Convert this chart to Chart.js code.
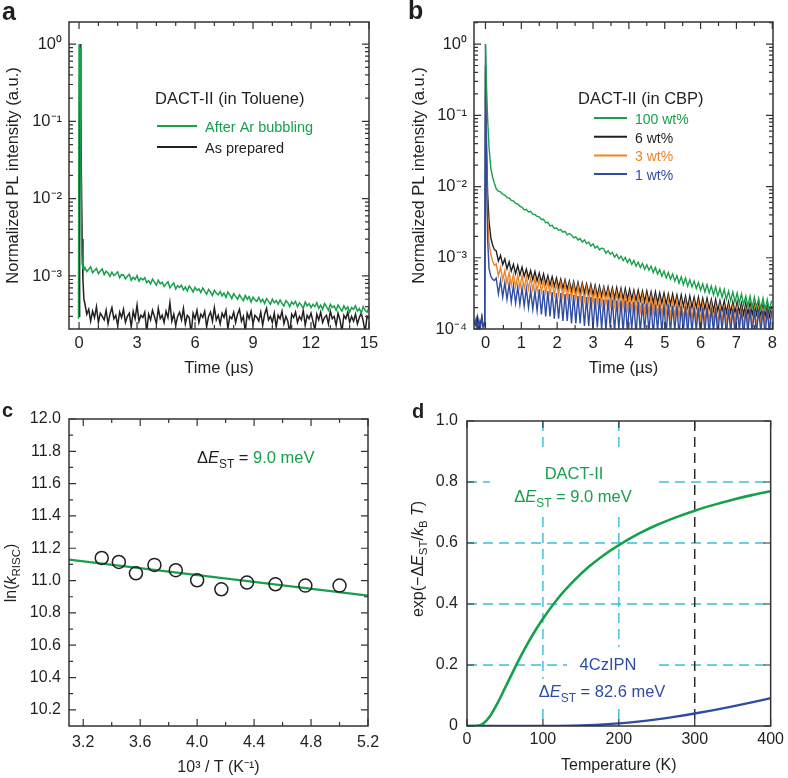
<!DOCTYPE html>
<html>
<head>
<meta charset="utf-8">
<script src="https://cdn.jsdelivr.net/npm/chart.js@4.4.1/dist/chart.umd.min.js"></script>
<style>
    body { margin: 0; background: #fff; }
    #figura { position: relative; width: 788px; height: 778px; background: #fff; }
    canvas { position: absolute; }
</style>
</head>
<body>
<div id="figura">
    <canvas id="chart_a" width="394" height="389" style="left:0;top:0"></canvas>
    <canvas id="chart_b" width="394" height="389" style="left:394px;top:0"></canvas>
    <canvas id="chart_c" width="394" height="389" style="left:0;top:389px"></canvas>
    <canvas id="chart_d" width="394" height="389" style="left:394px;top:389px"></canvas>
</div>
<script>
const FONTE = '"Liberation Sans", Arial, Helvetica, sans-serif';
const PRETO = '#231f20';
const VERDE = '#17a04b';
const AZUL = '#2f4ca3';
const LARANJA = '#f08424';
const CIANO = '#3dbdd3';

// ---------------- painel a (tolueno) ----------------
const titulo_legenda_a = 'DACT-II (in Toluene)';
const nomes_a = ['After Ar bubbling', 'As prepared'];
const tempo_pico_a = [-0.03, 0.0, 0.03, 0.06, 0.09, 0.12, 0.16, 0.2, 0.25];
const pico_ar_a = [2.8e-4, 1.0, 0.6, 0.9, 0.05, 0.004, 0.0015, 0.00125, 0.0012];
const pico_prep_a = [null, 3.0e-4, 0.3, 1.0, 0.2, 0.02, 0.003, 0.0009, 0.0005];
// caudas: inicio 0.30 us, passo 0.10 us, valores em unidades de 1e-4
const inicio_cauda_a = 0.30;
const passo_cauda_a = 0.10;
const cauda_ar_a = [
    12.9, 11.4, 12.2, 13.1, 11.0, 11.8, 12.5, 10.7, 11.6, 12.3,
    10.4, 11.5, 10.9, 9.9, 11.2, 10.1, 10.6, 11.3, 9.5, 10.4,
    10.3, 9.2, 9.9, 10.5, 8.8, 9.6, 9.0, 10.1, 8.6, 9.4,
    8.9, 9.5, 8.2, 8.7, 7.9, 9.1, 8.3, 7.6, 8.8, 7.9,
    8.3, 7.3, 7.9, 8.4, 7.0, 7.6, 8.1, 6.8, 7.5, 7.1,
    7.6, 6.6, 7.2, 6.4, 7.4, 6.9, 6.2, 7.1, 6.5, 6.8,
    6.1, 7.0, 6.3, 5.8, 6.7, 6.2, 5.6, 6.5, 6.0, 5.7,
    6.3, 5.5, 6.0, 5.3, 6.2, 5.7, 5.1, 5.9, 5.4, 5.0,
    5.7, 5.2, 4.8, 5.6, 5.0, 5.4, 4.6, 5.3, 4.9, 4.7,
    5.3, 4.6, 5.0, 4.4, 5.1, 4.7, 4.3, 5.0, 4.5, 4.8,
    4.3, 4.9, 4.4, 4.1, 4.8, 4.5, 4.0, 4.6, 4.3, 4.7,
    4.0, 4.5, 4.2, 3.8, 4.6, 4.1, 4.4, 3.9, 4.3, 4.0,
    4.5, 3.8, 4.2, 3.7, 4.4, 4.0, 3.6, 4.3, 3.9, 4.1,
    3.6, 4.2, 3.8, 3.5, 4.1, 3.7, 4.0, 3.4, 3.9, 3.7,
    4.1, 3.5, 3.8, 3.3, 4.0, 3.6, 3.4, 3.9
];
const cauda_prep_a = [
    4.4, 3.2, 3.7, 2.6, 3.5, 2.9, 4.0, 2.5, 3.3, 3.0,
    2.7, 3.6, 2.4, 3.2, 3.9, 2.8, 3.1, 2.3, 3.4, 2.9,
    3.7, 2.5, 3.0, 3.3, 2.2, 3.5, 2.8, 4.2, 2.6, 3.1,
    2.9, 3.4, 1.9, 3.2, 2.7, 3.6, 3.0, 2.4, 3.8, 2.8,
    3.1, 2.5, 3.5, 2.9, 4.5, 2.6, 3.2, 2.3, 3.0, 3.4,
    2.7, 3.8, 2.4, 3.1, 2.9, 1.8, 3.3, 2.8, 3.6, 2.5,
    3.2, 2.9, 3.5, 2.2, 3.0, 3.4, 2.6, 3.9, 2.7, 3.1,
    2.4, 3.3, 2.9, 3.6, 2.1, 3.0, 2.8, 3.4, 2.5, 3.2,
    3.7, 2.6, 3.0, 1.9, 3.3, 2.8, 3.5, 2.4, 3.1, 2.9,
    2.6, 3.4, 2.3, 3.2, 3.8, 2.7, 3.0, 2.5, 3.3, 2.2,
    3.1, 2.8, 3.5, 2.4, 3.0, 2.6, 1.8, 3.2, 2.9, 3.4,
    2.5, 3.0, 2.7, 3.6, 2.3, 3.1, 2.8, 3.3, 2.6, 2.0,
    3.2, 2.7, 3.4, 2.5, 2.9, 3.1, 2.4, 3.5, 2.8, 3.0,
    2.3, 3.3, 2.7, 1.9, 3.1, 2.8, 3.4, 2.5, 3.0, 2.6,
    3.2, 2.4, 2.9, 3.3, 2.6, 1.9, 3.0, 2.8
];
const ticks_x_a = [0, 3, 6, 9, 12, 15];
const rotulos_x_a = ['0', '3', '6', '9', '12', '15'];
const ticks_y_a = [1, 0.1, 0.01, 0.001];
const rotulos_y_a = ['10⁰', '10⁻¹', '10⁻²', '10⁻³'];

// ---------------- painel b (CBP) ----------------
const titulo_legenda_b = 'DACT-II (in CBP)';
const nomes_b = ['100 wt%', '6 wt%', '3 wt%', '1 wt%'];
const tempo_pico_b = [-0.3, -0.26, -0.22, -0.18, -0.14, -0.1, -0.06, -0.02, 0, 0.03, 0.06, 0.1, 0.15, 0.2, 0.25];
const pico_100_b = [null, null, null, null, null, null, null, null, 1.0, 0.25, 0.09, 0.035, 0.018, 0.0135, 0.011];
const pico_6_b = [1.3e-4, 1.1e-4, 1.45e-4, 0.95e-4, 1.2e-4, 1.5e-4, 1.05e-4, 1.25e-4, 0.5, 0.04, 0.008, 0.0032, 0.0019, 0.0015, 0.0013];
const pico_3_b = [null, null, null, null, null, null, null, null, 0.4, 0.02, 0.004, 0.0016, 0.0011, 0.0009, 0.00078];
const pico_1_b = [1.15e-4, 1.4e-4, 0.95e-4, 1.3e-4, 1.05e-4, 1.45e-4, 1.0e-4, 1.2e-4, 1.0, 0.015, 0.0018, 0.0007, 0.00055, 0.0005, 0.00048];
// caudas: inicio 0.30 us, passo 0.06 us, valores em unidades de 1e-4
const inicio_cauda_b = 0.30;
const passo_cauda_b = 0.06;
const cauda_100_b = [
    93, 86, 84, 78, 76, 70, 69, 64, 63, 58,
    57, 53, 51, 47, 48, 44, 45, 41, 40.5, 38,
    37.5, 34.5, 34.8, 31, 31.5, 28, 28.5, 25.8, 26.2, 24.3,
    24.9, 22.8, 23.5, 21.0, 21.9, 20.9, 19.0, 19.7, 17.8, 18.6,
    16.6, 17.8, 15.8, 16.5, 14.6, 15.6, 13.7, 14.6, 12.9, 13.7,
    13.3, 11.6, 12.6, 11.2, 11.9, 10.2, 11.2, 9.7, 10.5, 9.1,
    10.1, 8.6, 9.6, 8.1, 9.2, 7.6, 8.7, 7.3, 8.3, 6.9,
    8.0, 6.7, 7.6, 6.2, 7.3, 5.9, 6.8, 5.5, 6.5, 5.2,
    6.2, 5.0, 5.9, 4.7, 5.6, 4.4, 5.4, 4.2, 5.2, 4.0,
    4.9, 3.9, 4.7, 3.7, 4.5, 3.5, 4.3, 3.3, 4.2, 3.2,
    4.0, 3.0, 3.9, 2.9, 3.7, 2.8, 3.6, 2.6, 3.4, 2.5,
    3.3, 2.4, 3.2, 2.3, 3.1, 2.2, 2.9, 2.1, 2.9, 2.0,
    2.8, 2.0, 2.7, 1.9, 2.7, 1.9, 2.6, 1.8, 2.5
];
const cauda_6_b = [
    12.5, 9.0, 10.8, 8.0, 9.6, 7.0, 8.8, 6.5, 8.1, 6.0,
    7.8, 5.7, 7.4, 5.5, 6.9, 5.2, 6.6, 4.9, 6.4, 4.7,
    6.1, 4.5, 5.9, 4.3, 5.6, 4.1, 5.4, 4.0, 5.2, 3.8,
    5.0, 3.7, 4.9, 3.6, 4.7, 3.4, 4.6, 3.3, 4.5, 3.2,
    4.4, 3.2, 4.3, 3.1, 4.2, 3.0, 4.1, 2.9, 4.0, 2.9,
    3.9, 2.9, 3.9, 2.8, 3.8, 2.7, 3.8, 2.7, 3.7, 2.6,
    3.7, 2.6, 3.6, 2.6, 3.5, 2.5, 3.5, 2.5, 3.4, 2.4,
    3.4, 2.4, 3.3, 2.3, 3.3, 2.3, 3.2, 2.3, 3.2, 2.2,
    3.1, 2.2, 3.1, 2.2, 3.0, 2.1, 3.0, 2.1, 2.9, 2.0,
    2.9, 2.0, 2.8, 2.0, 2.8, 1.9, 2.7, 1.9, 2.7, 1.9,
    2.6, 1.8, 2.6, 1.8, 2.5, 1.8, 2.5, 1.7, 2.4, 1.7,
    2.4, 1.7, 2.4, 1.7, 2.3, 1.6, 2.3, 1.6, 2.3, 1.6,
    2.2, 1.6, 2.2, 1.5, 2.2, 1.5, 2.1, 1.5, 2.1
];
const cauda_3_b = [
    8.2, 5.6, 7.3, 4.9, 6.6, 4.4, 6.2, 4.1, 5.9, 3.9,
    5.7, 3.8, 5.6, 3.7, 5.4, 3.6, 5.2, 3.5, 5.1, 3.4,
    5.0, 3.3, 4.9, 3.2, 4.7, 3.1, 4.5, 3.0, 4.4, 3.0,
    4.4, 2.8, 4.3, 2.7, 4.2, 2.7, 4.1, 2.6, 4.0, 2.5,
    3.9, 2.5, 3.8, 2.4, 3.7, 2.3, 3.6, 2.3, 3.5, 2.2,
    3.5, 2.2, 3.4, 2.1, 3.3, 2.1, 3.2, 2.0, 3.2, 2.0,
    3.1, 1.9, 3.0, 1.9, 3.0, 1.8, 2.9, 1.8, 2.9, 1.7,
    2.8, 1.7, 2.8, 1.7, 2.7, 1.6, 2.6, 1.6, 2.6, 1.6,
    2.6, 1.5, 2.5, 1.5, 2.5, 1.5, 2.4, 1.4, 2.4, 1.4,
    2.3, 1.4, 2.3, 1.4, 2.3, 1.3, 2.2, 1.3, 2.2, 1.3,
    2.2, 1.3, 2.1, 1.2, 2.1, 1.3, 2.0, 1.2, 2.0, 1.2,
    2.0, 1.2, 2.0, 1.2, 1.9, 1.1, 1.9, 1.2, 1.9, 1.1,
    1.9, 1.1, 1.9, 1.2, 1.9, 1.1, 1.8, 1.1, 1.8
];
const cauda_1_b = [
    5.2, 3.1, 4.8, 2.8, 4.5, 2.6, 4.3, 2.4, 4.1, 2.3,
    3.9, 2.2, 3.8, 2.1, 3.7, 2.0, 3.5, 1.9, 3.4, 1.8,
    3.6, 1.6, 3.5, 1.5, 3.4, 1.5, 3.3, 1.4, 3.2, 1.4,
    3.2, 1.3, 3.1, 1.3, 3.1, 1.2, 3.0, 1.2, 2.9, 1.2,
    2.9, 1.1, 2.8, 1.1, 2.8, 1.0, 2.7, 1.05, 2.7, 1.0,
    2.6, 0.95, 2.6, 1.05, 2.6, 0.9, 2.5, 1.0, 2.5, 0.9,
    2.5, 0.9, 2.4, 1.0, 2.4, 0.8, 2.4, 0.9, 2.3, 0.95,
    2.3, 0.9, 2.3, 0.8, 2.2, 0.95, 2.2, 0.9, 2.2, 0.85,
    2.2, 0.9, 2.1, 0.95, 2.1, 0.8, 2.1, 0.9, 2.1, 0.85,
    2.1, 0.9, 2.0, 0.95, 2.0, 0.75, 2.0, 0.9, 2.0, 0.85,
    2.0, 0.9, 2.0, 0.8, 1.9, 0.95, 2.0, 0.8, 1.9, 0.9,
    1.9, 0.85, 1.9, 0.95, 1.9, 0.75, 1.9, 0.9, 1.9, 0.85,
    1.9, 0.85, 1.9, 0.9, 1.8, 0.8, 1.9, 0.85, 1.8
];
const ticks_x_b = [0, 1, 2, 3, 4, 5, 6, 7, 8];
const rotulos_x_b = ['0', '1', '2', '3', '4', '5', '6', '7', '8'];
const ticks_y_b = [1, 0.1, 0.01, 0.001, 0.0001];
const rotulos_y_b = ['10⁰', '10⁻¹', '10⁻²', '10⁻³', '10⁻⁴'];

// ---------------- painel c (Arrhenius) ----------------
const inverso_T_c = [3.33, 3.45, 3.57, 3.70, 3.85, 4.00, 4.17, 4.35, 4.55, 4.76, 5.00];
const ln_krisc_c = [11.14, 11.115, 11.045, 11.097, 11.064, 11.002, 10.946, 10.988, 10.977, 10.969, 10.969];
const ajuste_x_c = [3.1, 5.2];
const ajuste_y_c = [11.13, 10.907];
const ticks_x_c = [3.2, 3.6, 4.0, 4.4, 4.8, 5.2];
const rotulos_x_c = ['3.2', '3.6', '4.0', '4.4', '4.8', '5.2'];
const ticks_y_c = [10.2, 10.4, 10.6, 10.8, 11.0, 11.2, 11.4, 11.6, 11.8, 12.0];
const rotulos_y_c = ['10.2', '10.4', '10.6', '10.8', '11.0', '11.2', '11.4', '11.6', '11.8', '12.0'];

// ---------------- painel d (Boltzmann) ----------------
const nomes_d = ['DACT-II', '4CzIPN'];
const temperatura_d = [0, 10, 20, 30, 40, 50, 60, 70, 80, 90, 100, 120, 140, 160, 180, 200, 225, 250, 275, 300, 325, 350, 375, 400];
const dact_d = [0, 0.00003, 0.0054, 0.031, 0.074, 0.124, 0.175, 0.225, 0.271, 0.313, 0.352, 0.419, 0.474, 0.521, 0.560, 0.593, 0.629, 0.659, 0.684, 0.706, 0.725, 0.742, 0.757, 0.770];
const czipn_d = [0, 0, 0, 0, 0, 0, 0, 0, 0, 0.00001, 0.00007, 0.00034, 0.0011, 0.0025, 0.0049, 0.0083, 0.0141, 0.0216, 0.0306, 0.0410, 0.0524, 0.0646, 0.0776, 0.0911];
const ticks_x_d = [0, 100, 200, 300, 400];
const rotulos_x_d = ['0', '100', '200', '300', '400'];
const ticks_y_d = [0, 0.2, 0.4, 0.6, 0.8, 1.0];
const rotulos_y_d = ['0', '0.2', '0.4', '0.6', '0.8', '1.0'];
const grade_x_d = [100, 200];
const grade_preta_d = [300];
const grade_y_d = [0.2, 0.4, 0.6, 0.8];


function montarPontos(tempoPico, pico, inicio, passo, cauda) {
    var pontos = [];
    for (var i = 0; i < tempoPico.length; i++) {
        pontos.push({ x: tempoPico[i], y: pico[i] });
    }
    for (var j = 0; j < cauda.length; j++) {
        pontos.push({ x: inicio + j * passo, y: cauda[j] * 1e-4 });
    }
    return pontos;
}

function juntar(xs, ys) {
    return xs.map(function (x, i) { return { x: x, y: ys[i] }; });
}

function menoresLog(min, max) {
    var lista = [];
    for (var d = 1e-5; d < 10; d *= 10) {
        for (var k = 2; k <= 9; k++) {
            var v = k * d;
            if (v > min && v < max) lista.push(v);
        }
    }
    return lista;
}

function fontePara(parte, tam) {
    if (parte[2] === 'sub') return (tam * 0.72).toFixed(1) + 'px ' + FONTE;
    if (parte[2] === 'i') return 'italic ' + tam + 'px ' + FONTE;
    return tam + 'px ' + FONTE;
}

// texto com italico e subscrito: partes = [[texto, cor, estilo], ...]
function textoRico(ctx, partes, x, y, tam, alinhar) {
    ctx.textAlign = 'left';
    ctx.textBaseline = 'alphabetic';
    var total = 0;
    partes.forEach(function (p) {
        ctx.font = fontePara(p, tam);
        total += ctx.measureText(p[0]).width;
    });
    var cx = x;
    if (alinhar === 'center') cx = x - total / 2;
    partes.forEach(function (p) {
        ctx.font = fontePara(p, tam);
        ctx.fillStyle = p[1];
        var dy = p[2] === 'sub' ? tam * 0.3 : 0;
        ctx.fillText(p[0], cx, y + dy);
        cx += ctx.measureText(p[0]).width;
    });
    return total;
}

function tituloVertical(ctx, partes, cx, cy, tam) {
    ctx.save();
    ctx.translate(cx + tam * 0.35, cy);
    ctx.rotate(-Math.PI / 2);
    textoRico(ctx, partes, 0, 0, tam, 'center');
    ctx.restore();
}

function eixoX(min, max, valores, rotulos, tam, pad, titulo, padTitulo, altura) {
    return {
        type: 'linear',
        min: min,
        max: max,
        grid: { display: false, drawTicks: false },
        border: { display: false },
        afterBuildTicks: function (s) { s.ticks = valores.map(function (v) { return { value: v }; }); },
        afterFit: function (s) { s.height = altura; },
        ticks: {
            autoSkip: false, maxRotation: 0, padding: pad, color: PRETO,
            font: { size: tam, family: FONTE },
            callback: function (v, i) { return rotulos[i]; }
        },
        title: {
            display: titulo !== '', text: titulo, color: PRETO,
            font: { size: tam, family: FONTE },
            padding: { top: 0, bottom: padTitulo }
        }
    };
}

function eixoY(tipo, min, max, valores, rotulos, tam, pad, titulo, padTitulo, largura) {
    return {
        type: tipo,
        min: min,
        max: max,
        grid: { display: false, drawTicks: false },
        border: { display: false },
        afterBuildTicks: function (s) { s.ticks = valores.map(function (v) { return { value: v }; }); },
        afterFit: function (s) { s.width = largura; },
        ticks: {
            autoSkip: false, padding: pad, color: PRETO,
            font: { size: tam, family: FONTE },
            callback: function (v, i) { return rotulos[i]; }
        },
        title: {
            display: titulo !== '', text: titulo, color: PRETO,
            font: { size: tam, family: FONTE },
            padding: { top: padTitulo, bottom: 0 }
        }
    };
}

// moldura com marcas para dentro nos quatro lados + letra do painel
function moldura(cfg) {
    return {
        id: 'moldura_' + cfg.letra,
        beforeDatasetsDraw: function (chart) {
            if (cfg.fundo) {
                chart.ctx.save();
                cfg.fundo(chart, chart.ctx);
                chart.ctx.restore();
            }
        },
        afterDatasetsDraw: function (chart) {
            const ctx = chart.ctx;
            const a = chart.chartArea;
            const sx = chart.scales.x;
            const sy = chart.scales.y;
            ctx.save();
            ctx.strokeStyle = '#333';
            ctx.lineWidth = 1.2;
            ctx.beginPath();
            function marcasX(vals, tam) {
                vals.forEach(function (v) {
                    var px = sx.getPixelForValue(v);
                    ctx.moveTo(px, a.bottom); ctx.lineTo(px, a.bottom - tam);
                    ctx.moveTo(px, a.top); ctx.lineTo(px, a.top + tam);
                });
            }
            function marcasY(vals, tam) {
                vals.forEach(function (v) {
                    var py = sy.getPixelForValue(v);
                    ctx.moveTo(a.left, py); ctx.lineTo(a.left + tam, py);
                    ctx.moveTo(a.right, py); ctx.lineTo(a.right - tam, py);
                });
            }
            marcasX(cfg.xMaior, 7);
            marcasX(cfg.xMenor || [], 4);
            marcasY(cfg.yMaior, 7);
            marcasY(cfg.yMenor || [], 4);
            ctx.stroke();
            ctx.lineWidth = 1.5;
            ctx.strokeRect(a.left, a.top, a.right - a.left, a.bottom - a.top);
            if (cfg.extras) cfg.extras(chart, ctx);
            ctx.fillStyle = PRETO;
            ctx.textAlign = 'left';
            ctx.textBaseline = 'alphabetic';
            ctx.font = 'bold ' + cfg.tamLetra + 'px ' + FONTE;
            ctx.fillText(cfg.letra, cfg.letraX, cfg.letraY);
            ctx.restore();
        }
    };
}

function legenda(ctx, chart, titulo, tituloX, tituloY, x1, x2, y0, dy, tam) {
    ctx.textAlign = 'left';
    ctx.textBaseline = 'alphabetic';
    ctx.fillStyle = PRETO;
    ctx.font = '16.5px ' + FONTE;
    ctx.fillText(titulo, tituloX, tituloY);
    chart.data.datasets.forEach(function (ds, i) {
        var y = y0 + i * dy;
        ctx.strokeStyle = ds.borderColor;
        ctx.lineWidth = 2;
        ctx.beginPath();
        ctx.moveTo(x1, y);
        ctx.lineTo(x2, y);
        ctx.stroke();
        ctx.fillStyle = ds.borderColor;
        ctx.font = tam + 'px ' + FONTE;
        ctx.fillText(ds.label, x2 + 8, y + 6);
    });
}

const DELTA_EST = [['Δ', null, ''], ['E', null, 'i'], ['ST', null, 'sub']];
function deltaE(corRotulo, corValor, valor) {
    var partes = DELTA_EST.map(function (p) { return [p[0], corRotulo, p[2]]; });
    partes.push([' = ', corRotulo, '']);
    partes.push([valor, corValor, '']);
    return partes;
}

const opcoesBase = {
    responsive: false,
    animation: false,
    events: [],
    plugins: { legend: { display: false }, tooltip: { enabled: false } }
};

function criarGraficos() {

    // ---- a ----
    new Chart(document.getElementById('chart_a'), {
        type: 'line',
        data: {
            datasets: [{
                label: nomes_a[0],
                data: montarPontos(tempo_pico_a, pico_ar_a, inicio_cauda_a, passo_cauda_a, cauda_ar_a),
                borderColor: VERDE, borderWidth: 1.5, pointRadius: 0, tension: 0
            }, {
                label: nomes_a[1],
                data: montarPontos(tempo_pico_a, pico_prep_a, inicio_cauda_a, passo_cauda_a, cauda_prep_a),
                borderColor: PRETO, borderWidth: 1.5, pointRadius: 0, tension: 0
            }]
        },
        options: Object.assign({}, opcoesBase, {
            layout: { padding: { left: 0, top: 22, right: 25, bottom: 0 } },
            scales: {
                x: eixoX(-0.52, 15, ticks_x_a, rotulos_x_a, 16.5, 5, 'Time (µs)', 11, 60),
                y: eixoY('logarithmic', 2.06e-4, 1.93, ticks_y_a, rotulos_y_a, 16.5, 7, 'Normalized PL intensity (a.u.)', 4, 69)
            }
        }),
        plugins: [moldura({
            letra: 'a', letraX: 2, letraY: 20, tamLetra: 25,
            xMaior: ticks_x_a, xMenor: [1, 2, 4, 5, 7, 8, 10, 11, 13, 14],
            yMaior: ticks_y_a, yMenor: menoresLog(2.06e-4, 1.93),
            extras: function (chart, ctx) {
                legenda(ctx, chart, titulo_legenda_a, 155, 104, 157, 197, 126, 21, 14.5);
            }
        })]
    });

    // ---- b ----
    new Chart(document.getElementById('chart_b'), {
        type: 'line',
        data: {
            datasets: [{
                label: nomes_b[0], order: 0,
                data: montarPontos(tempo_pico_b, pico_100_b, inicio_cauda_b, passo_cauda_b, cauda_100_b),
                borderColor: VERDE, borderWidth: 1.4, pointRadius: 0, tension: 0
            }, {
                label: nomes_b[1], order: 3,
                data: montarPontos(tempo_pico_b, pico_6_b, inicio_cauda_b, passo_cauda_b, cauda_6_b),
                borderColor: PRETO, borderWidth: 1.4, pointRadius: 0, tension: 0
            }, {
                label: nomes_b[2], order: 2,
                data: montarPontos(tempo_pico_b, pico_3_b, inicio_cauda_b, passo_cauda_b, cauda_3_b),
                borderColor: LARANJA, borderWidth: 1.4, pointRadius: 0, tension: 0
            }, {
                label: nomes_b[3], order: 1,
                data: montarPontos(tempo_pico_b, pico_1_b, inicio_cauda_b, passo_cauda_b, cauda_1_b),
                borderColor: AZUL, borderWidth: 1.4, pointRadius: 0, tension: 0
            }]
        },
        options: Object.assign({}, opcoesBase, {
            layout: { padding: { left: 0, top: 22, right: 15, bottom: 0 } },
            scales: {
                x: eixoX(-0.32, 8.02, ticks_x_b, rotulos_x_b, 16.5, 5, 'Time (µs)', 11, 60),
                y: eixoY('logarithmic', 1e-4, 2.04, ticks_y_b, rotulos_y_b, 16.5, 7, 'Normalized PL intensity (a.u.)', 16, 80)
            }
        }),
        plugins: [moldura({
            letra: 'b', letraX: 14, letraY: 19, tamLetra: 25,
            xMaior: ticks_x_b, xMenor: [0.5, 1.5, 2.5, 3.5, 4.5, 5.5, 6.5, 7.5],
            yMaior: ticks_y_b, yMenor: menoresLog(1e-4, 2.04),
            extras: function (chart, ctx) {
                legenda(ctx, chart, titulo_legenda_b, 184, 104, 200, 233, 118, 18.7, 14);
            }
        })]
    });

    // ---- c ----
    new Chart(document.getElementById('chart_c'), {
        type: 'scatter',
        data: {
            datasets: [{
                label: 'ln(kRISC)',
                data: juntar(inverso_T_c, ln_krisc_c),
                showLine: false,
                pointRadius: 6.5, pointBorderWidth: 1.5,
                pointBorderColor: PRETO, pointBackgroundColor: 'rgba(0,0,0,0)'
            }, {
                label: 'fit',
                data: juntar(ajuste_x_c, ajuste_y_c),
                showLine: true, pointRadius: 0,
                borderColor: VERDE, borderWidth: 2.3
            }]
        },
        options: Object.assign({}, opcoesBase, {
            layout: { padding: { left: 0, top: 30, right: 26, bottom: 0 } },
            scales: {
                x: eixoX(3.1, 5.2, ticks_x_c, rotulos_x_c, 16, 7, '10³ / T (K⁻¹)', 1, 52),
                y: eixoY('linear', 10.1, 12.0, ticks_y_c, rotulos_y_c, 16, 8, '', 0, 69)
            }
        }),
        plugins: [moldura({
            letra: 'c', letraX: 2, letraY: 28, tamLetra: 20,
            xMaior: ticks_x_c, xMenor: [3.4, 3.8, 4.2, 4.6, 5.0],
            yMaior: ticks_y_c, yMenor: [10.3, 10.5, 10.7, 10.9, 11.1, 11.3, 11.5, 11.7, 11.9],
            extras: function (chart, ctx) {
                tituloVertical(ctx, [['ln(', PRETO, ''], ['k', PRETO, 'i'], ['RISC', PRETO, 'sub'], [')', PRETO, '']], 10, 184, 16);
                textoRico(ctx, deltaE(PRETO, VERDE, '9.0 meV'), 197, 74, 16.5, 'left');
            }
        })]
    });

    // ---- d ----
    new Chart(document.getElementById('chart_d'), {
        type: 'line',
        data: {
            datasets: [{
                label: nomes_d[0],
                data: juntar(temperatura_d, dact_d),
                borderColor: VERDE, borderWidth: 2.6, pointRadius: 0,
                cubicInterpolationMode: 'monotone'
            }, {
                label: nomes_d[1],
                data: juntar(temperatura_d, czipn_d),
                borderColor: AZUL, borderWidth: 2.3, pointRadius: 0,
                cubicInterpolationMode: 'monotone'
            }]
        },
        options: Object.assign({}, opcoesBase, {
            layout: { padding: { left: 0, top: 32, right: 14, bottom: 0 } },
            scales: {
                x: eixoX(0, 400, ticks_x_d, rotulos_x_d, 16, 4, 'Temperature (K)', 3, 52),
                y: eixoY('linear', 0, 1.0, ticks_y_d, rotulos_y_d, 16, 9, '', 0, 73)
            }
        }),
        plugins: [moldura({
            letra: 'd', letraX: 18, letraY: 29, tamLetra: 20,
            xMaior: ticks_x_d, yMaior: ticks_y_d,
            fundo: function (chart, ctx) {
                const a = chart.chartArea, sx = chart.scales.x, sy = chart.scales.y;
                ctx.lineWidth = 1.4;
                ctx.setLineDash([10, 6]);
                ctx.strokeStyle = CIANO;
                ctx.beginPath();
                grade_y_d.forEach(function (v) {
                    var py = sy.getPixelForValue(v);
                    ctx.moveTo(a.left, py); ctx.lineTo(a.right, py);
                });
                grade_x_d.forEach(function (v) {
                    var px = sx.getPixelForValue(v);
                    ctx.moveTo(px, a.top); ctx.lineTo(px, a.bottom);
                });
                ctx.stroke();
                ctx.strokeStyle = PRETO;
                ctx.beginPath();
                grade_preta_d.forEach(function (v) {
                    var px = sx.getPixelForValue(v);
                    ctx.moveTo(px, a.top); ctx.lineTo(px, a.bottom);
                });
                ctx.stroke();
                ctx.setLineDash([]);
                // fundo branco atras das anotacoes
                ctx.fillStyle = '#fff';
                ctx.fillRect(96, 64, 167, 59);
                ctx.fillRect(173, 258, 90, 32);
                ctx.fillRect(140, 290, 135, 25);
            },
            extras: function (chart, ctx) {
                ctx.textAlign = 'center';
                ctx.textBaseline = 'alphabetic';
                ctx.font = '16.5px ' + FONTE;
                ctx.fillStyle = VERDE;
                ctx.fillText(nomes_d[0], 180, 90);
                textoRico(ctx, deltaE(VERDE, VERDE, '9.0 meV'), 179, 113, 16.5, 'center');
                ctx.textAlign = 'center';
                ctx.font = '16.5px ' + FONTE;
                ctx.fillStyle = AZUL;
                ctx.fillText(nomes_d[1], 214, 281);
                textoRico(ctx, deltaE(AZUL, AZUL, '82.6 meV'), 208, 308, 16.5, 'center');
                tituloVertical(ctx, [['exp(−Δ', PRETO, ''], ['E', PRETO, 'i'], ['ST', PRETO, 'sub'], ['/', PRETO, ''],
                    ['k', PRETO, 'i'], ['B', PRETO, 'sub'], [' ', PRETO, ''], ['T', PRETO, 'i'], [')', PRETO, '']], 23, 170, 16);
            }
        })]
    });
}

criarGraficos();
</script>
</body>
</html>
